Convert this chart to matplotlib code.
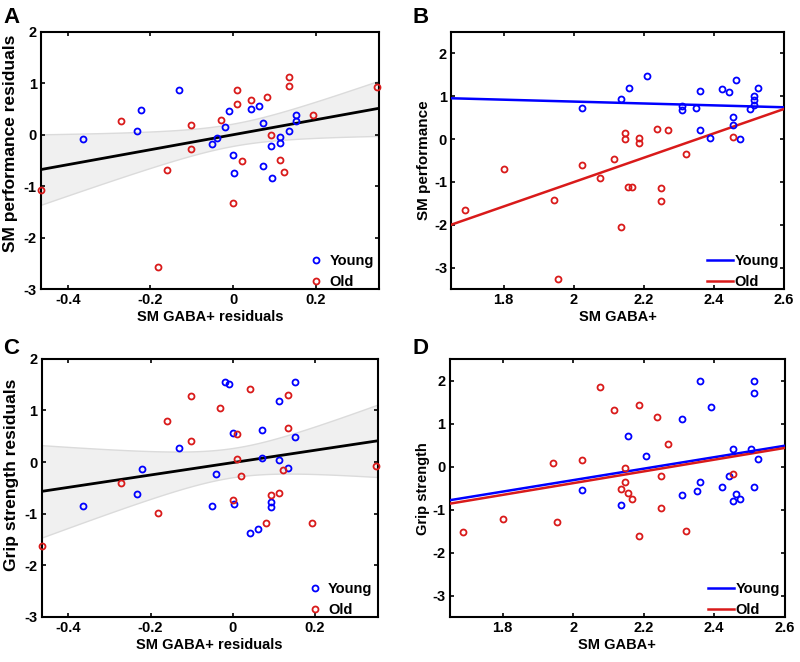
import numpy as np
import matplotlib
matplotlib.use('Agg')
from matplotlib import pyplot as plt

plt.rcParams['font.family'] = ['Liberation Sans', 'DejaVu Sans']
plt.rcParams['font.weight'] = 'bold'
plt.rcParams['font.size'] = 10.5

BLUE = (0, 0, 1)
RED = (0.85, 0.1, 0.1)

# residuals (panels A and C)
res_x_young = [-0.364, -0.222, -0.233, -0.131, -0.019, -0.009, -0.040, -0.051, 0.0, 0.002,
               0.042, 0.062, 0.072, 0.072, 0.092, 0.093, 0.113, 0.113, 0.134, 0.152, 0.152]
perf_res_young = [-0.075, 0.48, 0.067, 0.86, 0.15, 0.46, -0.06, -0.18, -0.40, -0.74,
                  0.50, 0.56, 0.23, -0.61, -0.22, -0.84, -0.04, -0.17, 0.07, 0.38, 0.27]
grip_res_young = [-0.845, -0.14, -0.61, 0.28, 1.55, 1.51, -0.23, -0.845, 0.555, -0.82,
                  -1.37, -1.30, 0.63, 0.08, -0.77, -0.87, 1.18, 0.04, -0.11, 1.55, 0.48]

res_x_old = [-0.464, -0.272, -0.181, -0.161, -0.101, -0.101, -0.030, 0.010, 0.010, 0.0,
             0.021, 0.042, 0.081, 0.092, 0.113, 0.123, 0.134, 0.134, 0.193, 0.347]
perf_res_old = [-1.08, 0.26, -2.58, -0.68, 0.18, -0.27, 0.29, 0.86, 0.59, -1.32,
                -0.51, 0.68, 0.74, 0.0, -0.49, -0.72, 1.12, 0.95, 0.39, 0.93]
grip_res_old = [-1.62, -0.41, -0.99, 0.79, 1.28, 0.41, 1.05, 0.55, 0.05, -0.74,
                -0.26, 1.41, -1.18, -0.64, -0.59, -0.15, 1.30, 0.66, -1.18, -0.08]

# raw values (panels B and D)
gaba_young = [2.024, 2.136, 2.157, 2.208, 2.309, 2.309, 2.350, 2.361, 2.361, 2.390, 2.422,
              2.442, 2.453, 2.453, 2.462, 2.474, 2.503, 2.514, 2.514, 2.514, 2.525]
perf_young = [0.73, 0.94, 1.18, 1.47, 0.78, 0.67, 0.73, 1.13, 0.22, 0.015, 1.16,
              1.09, 0.52, 0.33, 1.38, -0.01, 0.71, 1.0, 0.91, 0.80, 1.20]
grip_young = [-0.54, -0.90, 0.71, 0.25, 1.12, -0.65, -0.56, 1.99, -0.35, 1.39, -0.47,
              -0.22, 0.41, -0.80, -0.63, -0.76, 0.42, 1.99, 1.73, -0.46, 0.19]

gaba_old = [1.688, 1.801, 1.944, 1.954, 2.024, 2.076, 2.116, 2.136, 2.147, 2.147,
            2.156, 2.167, 2.187, 2.187, 2.237, 2.250, 2.250, 2.268, 2.320, 2.453]
perf_old = [-1.66, -0.70, -1.42, -3.26, -0.60, -0.92, -0.47, -2.06, 0.15, 0.0,
            -1.11, -1.13, 0.02, -0.10, 0.23, -1.14, -1.44, 0.22, -0.36, 0.04]
grip_old = [-1.52, -1.22, 0.085, -1.29, 0.16, 1.85, 1.32, -0.51, -0.02, -0.35,
            -0.60, -0.74, 1.43, -1.62, 1.17, -0.22, -0.96, 0.53, -1.49, -0.16]

# group fit lines (slope, intercept)
fit_perf = {'Young': (-0.221, 1.315), 'Old': (2.842, -6.689)}
fit_grip = {'Young': (1.337, -2.986), 'Old': (1.368, -3.118)}


def style_axes(ax, xlim, ylim, xticks, yticks):
    ax.set_xlim(xlim)
    ax.set_ylim(ylim)
    ax.set_xticks(xticks)
    ax.set_yticks(yticks)
    ax.set_xticklabels([('%g' % t) for t in xticks])
    ax.set_yticklabels([('%g' % t) for t in yticks])
    ax.tick_params(direction='in', top=True, right=True, length=3, width=1.2,
                   labelsize=10.5, pad=3)
    for s in ax.spines.values():
        s.set_linewidth(1.5)


def scatter_pts(ax, x, y, c, label):
    ax.plot(x, y, 'o', ls='none', ms=4.3, mfc='none', mec=c, mew=1.3,
            label=label, clip_on=False, zorder=4)


def residual_panel(ax, yy, yo, ylabel, ylab_pos):
    x = np.array(res_x_young + res_x_old)
    y = np.array(yy + yo)
    xlim = (-0.465, 0.352)
    n = len(x)
    b, a = np.polyfit(x, y, 1)
    xs = np.linspace(xlim[0], xlim[1], 200)
    fit = a + b * xs
    s = np.sqrt(np.sum((y - (a + b * x)) ** 2) / (n - 2))
    sxx = np.sum((x - x.mean()) ** 2)
    hw = 2.02 * s * np.sqrt(1.0 / n + (xs - x.mean()) ** 2 / sxx)
    ax.fill_between(xs, fit - hw, fit + hw, color=(0.94, 0.94, 0.94),
                    edgecolor=(0.86, 0.86, 0.86), lw=1, zorder=1)
    ax.plot(xs, fit, color='k', lw=2, zorder=3)
    scatter_pts(ax, res_x_young, yy, BLUE, 'Young')
    scatter_pts(ax, res_x_old, yo, RED, 'Old')
    style_axes(ax, xlim, (-3, 2), [-0.4, -0.2, 0, 0.2], [-3, -2, -1, 0, 1, 2])
    ax.set_xlabel('SM GABA+ residuals', fontweight='bold', labelpad=2)
    ax.set_ylabel(ylabel, fontweight='bold', fontsize=12.5)
    ax.yaxis.set_label_coords(-0.066, ylab_pos)
    ax.legend(loc='lower right', bbox_to_anchor=(0.985, 0.0), frameon=False,
              handletextpad=0.3, borderpad=0.0, borderaxespad=0.0,
              labelspacing=0.45, handlelength=1.2, fontsize=10.5)


def raw_panel(ax, yy, yo, ylabel, fits, ylsize):
    xlim = (1.65, 2.6)
    xs = np.array(xlim)
    for c, lab in [(BLUE, 'Young'), (RED, 'Old')]:
        b, a = fits[lab]
        ax.plot(xs, a + b * xs, color=c, lw=1.8, label=lab, zorder=3)
    scatter_pts(ax, gaba_young, yy, BLUE, None)
    scatter_pts(ax, gaba_old, yo, RED, None)
    style_axes(ax, xlim, (-3.5, 2.5), [1.8, 2, 2.2, 2.4, 2.6], [-3, -2, -1, 0, 1, 2])
    ax.set_xlabel('SM GABA+', fontweight='bold', labelpad=2)
    ax.set_ylabel(ylabel, fontweight='bold', labelpad=2, fontsize=ylsize)
    ax.legend(loc='lower right', bbox_to_anchor=(0.985, 0.0), frameon=False,
              handletextpad=0.1, borderpad=0.0, borderaxespad=0.0,
              labelspacing=0.45, handlelength=1.8, fontsize=10.5)


fig = plt.figure(figsize=(8, 6.62), dpi=100)
axA = fig.add_axes([0.051, 0.5634, 0.4225, 0.3885])
axB = fig.add_axes([0.564, 0.5634, 0.416, 0.3885])
axC = fig.add_axes([0.052, 0.068, 0.42, 0.39])
axD = fig.add_axes([0.562, 0.068, 0.419, 0.389])

residual_panel(axA, perf_res_young, perf_res_old, 'SM performance residuals', 0.565)
raw_panel(axB, perf_young, perf_old, 'SM performance', fit_perf, 11)
residual_panel(axC, grip_res_young, grip_res_old, 'Grip strength residuals', 0.55)
raw_panel(axD, grip_young, grip_old, 'Grip strength', fit_grip, 10.5)

for lab, (x, y) in zip('ABCD', [(0.004, 0.99), (0.516, 0.99), (0.004, 0.49), (0.516, 0.49)]):
    fig.text(x, y, lab, fontsize=16, fontweight='bold', va='top', ha='left')

fig.savefig('out.png', dpi=100)
